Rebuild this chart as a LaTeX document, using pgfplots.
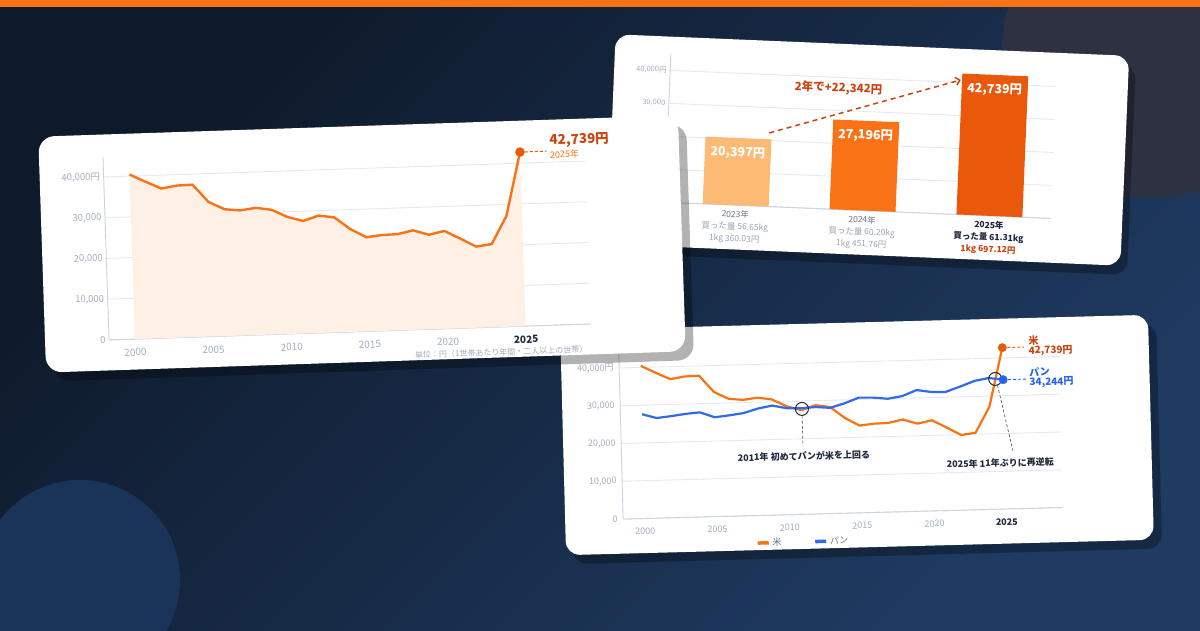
\documentclass[border=0pt]{standalone}
\usepackage{pgfplots}
\usepackage{pgfplotstable}
\pgfplotsset{compat=1.18}
\usepackage{fontspec}
\setmainfont{Noto Sans CJK JP}
\usetikzlibrary{arrows.meta}

\definecolor{bgA}{HTML}{0E1929}
\definecolor{bgB}{HTML}{1F3B62}
\definecolor{circA}{HTML}{2E3142}
\definecolor{circB}{HTML}{1A3358}
\definecolor{topbar}{HTML}{F97316}
\definecolor{riceline}{HTML}{F97316}
\definecolor{ricedot}{HTML}{EA580C}
\definecolor{labeldark}{HTML}{C94410}
\definecolor{breadline}{HTML}{2F6AE8}
\definecolor{breadlab}{HTML}{2563EB}
\definecolor{peach}{HTML}{FEF0E5}
\definecolor{gridc}{HTML}{E4E9F0}
\definecolor{axisline}{HTML}{CBD3DF}
\definecolor{tickc}{HTML}{A3AEC0}
\definecolor{darktxt}{HTML}{1E293B}
\definecolor{catgrey}{HTML}{9AA4B4}
\definecolor{catdark}{HTML}{6B7587}
\definecolor{legc}{HTML}{6B7280}
\definecolor{bar23}{HTML}{FDBA74}
\definecolor{bar24}{HTML}{F97316}
\definecolor{bar25}{HTML}{EA580C}

% household rice spending per year (yen)
\pgfplotstableread{
year yen
2000 40400
2001 38500
2002 36700
2003 37300
2004 37400
2005 33000
2006 31100
2007 30700
2008 31200
2009 30600
2010 28700
2011 27600
2012 28800
2013 28200
2014 25200
2015 23100
2016 23500
2017 23600
2018 24400
2019 23200
2020 24000
2021 22000
2022 19900
2023 20397
2024 27196
2025 42739
}\rice

% household bread spending per year (yen)
\pgfplotstableread{
year yen
2000 27600
2001 26500
2002 26900
2003 27400
2004 27700
2005 26300
2006 26700
2007 27200
2008 28300
2009 29000
2010 28200
2011 28100
2012 28300
2013 28000
2014 29100
2015 30500
2016 30400
2017 30000
2018 30600
2019 32100
2020 31500
2021 31400
2022 32700
2023 34100
2024 34800
2025 34244
}\bread

% years are plotted relative to 2000
\pgfplotsset{
  cardaxis/.style={
    scale only axis, clip=false,
    axis x line*=bottom, axis y line*=left,
    axis line style={-, draw=axisline, line width=0.9pt},
    ymajorgrids, grid style={gridc, line width=0.9pt},
    major tick length=0pt,
    scaled y ticks=false, scaled x ticks=false,
    ytick={0,10000,20000,30000,40000},
    yticklabels={0,10{,}000,20{,}000,30{,}000,40{,}000円},
  },
  yearticks/.style={
    xtick={0,5,10,15,20,25},
    xticklabels={2000,2005,2010,2015,2020,{\textcolor{darktxt}{\bfseries 2025}}},
  },
}

\begin{document}
\begin{tikzpicture}[x=1pt,y=1pt]
\clip (0,0) rectangle (1200,630);

% backdrop
\shade[top color=bgA, bottom color=bgB, shading angle=45] (0,0) rectangle (1200,630);
\fill[circA, overlay] (1150,580) circle[radius=148];
\fill[circB, overlay] (80,50) circle[radius=100];
\fill[topbar] (0,623) rectangle (1200,630);

% ---------- card: three-year bar comparison ----------
\begin{scope}[shift={(868,480)}, rotate=-2.4, transform shape]
\fill[black, opacity=0.3, rounded corners=14] (-250,-114) rectangle (264,96);
\fill[white, rounded corners=14] (-257,-105) rectangle (257,105);
\begin{axis}[cardaxis,
  at={(-201pt,-60.7pt)}, anchor=south west,
  width=386pt, height=148.5pt,
  xmin=-0.56, xmax=2.48, ymin=0, ymax=45000,
  xtick=\empty,
  yticklabel style={font=\fontsize{7.5}{8}\selectfont, text=tickc},
]
\addplot[ybar, bar width=0.52, bar shift=0pt, fill=bar23, draw=none] coordinates {(0,20397)};
\addplot[ybar, bar width=0.52, bar shift=0pt, fill=bar24, draw=none] coordinates {(1,27196)};
\addplot[ybar, bar width=0.52, bar shift=0pt, fill=bar25, draw=none] coordinates {(2,42739)};
\node[anchor=north, yshift=-5pt, text=white, font=\bfseries\fontsize{12.5}{13}\selectfont] at (axis cs:0,20397) {20,397円};
\node[anchor=north, yshift=-5pt, text=white, font=\bfseries\fontsize{12.5}{13}\selectfont] at (axis cs:1,27196) {27,196円};
\node[anchor=north, yshift=-5pt, text=white, font=\bfseries\fontsize{12.5}{13}\selectfont] at (axis cs:2,42739) {42,739円};
\draw[labeldark, line width=1.5pt, dash pattern=on 5pt off 4pt, -{Straight Barb[length=4pt,width=8pt]}]
  (axis cs:0.24,22300) -- (axis cs:1.73,40800);
\node[text=labeldark, font=\bfseries\fontsize{11.5}{12}\selectfont] at (axis cs:0.77,36700) {2年で+22,342円};
\node[anchor=north, yshift=-5pt, inner sep=0pt, align=center, font=\fontsize{8.5}{12}\selectfont] at (axis cs:0,0)
  {\textcolor{catdark}{2023年}\\\textcolor{catgrey}{買った量 56.65kg}\\\textcolor{catgrey}{1kg 360.03円}};
\node[anchor=north, yshift=-5pt, inner sep=0pt, align=center, font=\fontsize{8.5}{12}\selectfont] at (axis cs:1,0)
  {\textcolor{catdark}{2024年}\\\textcolor{catgrey}{買った量 60.20kg}\\\textcolor{catgrey}{1kg 451.76円}};
\node[anchor=north, yshift=-5pt, inner sep=0pt, align=center, font=\bfseries\fontsize{8.5}{12}\selectfont] at (axis cs:2,0)
  {\textcolor{darktxt}{2025年}\\\textcolor{darktxt}{買った量 61.31kg}\\\textcolor{labeldark}{1kg 697.12円}};
\end{axis}
\end{scope}

% ---------- card: rice vs bread ----------
\begin{scope}[shift={(857,195)}, rotate=1.5, transform shape]
\fill[black, opacity=0.3, rounded corners=14] (-287,-121.5) rectangle (302,103.5);
\fill[white, rounded corners=14] (-294,-112.5) rectangle (294,112.5);
\begin{axis}[cardaxis, yearticks,
  at={(-236pt,-77.9pt)}, anchor=south west,
  width=440pt, height=170pt,
  xmin=-1.5, xmax=28.9, ymin=0, ymax=45000,
  xticklabel style={font=\fontsize{9}{10}\selectfont, text=tickc, yshift=-6pt},
  yticklabel style={font=\fontsize{9}{10}\selectfont, text=tickc, xshift=-2pt},
  legend style={at={(axis description cs:0.30,-0.162)}, anchor=west, draw=none, fill=none,
    inner sep=0pt, font=\fontsize{9}{10}\selectfont, text=legc, legend columns=2,
    /tikz/every even column/.append style={column sep=30pt}},
  legend image code/.code={\draw[#1, line width=3.5pt] (0pt,0pt) -- (11pt,0pt);},
]
\addplot[riceline, line width=2.2pt, line join=round] table[x expr=\thisrow{year}-2000, y=yen] {\rice};
\addlegendentry{米}
\addplot[breadline, line width=2.2pt, line join=round] table[x expr=\thisrow{year}-2000, y=yen] {\bread};
\addlegendentry{パン}
\draw[ricedot, densely dashed, line width=0.9pt] (axis cs:25,42739) -- (axis cs:26.5,42739);
\draw[breadlab, densely dashed, line width=0.9pt] (axis cs:25,34244) -- (axis cs:26.6,34244);
\addplot[forget plot, only marks, mark=*, mark size=4.2pt, color=ricedot] coordinates {(25,42739)};
\addplot[forget plot, only marks, mark=*, mark size=4.2pt, color=breadlab] coordinates {(25,34244)};
\draw[black!85, line width=1pt] (axis cs:11.05,27900) circle[radius=6.5pt];
\draw[black!85, line width=1pt] (axis cs:24.45,34500) circle[radius=6.5pt];
\draw[black!70, densely dashed, line width=0.6pt] (axis cs:11.05,26100) -- (axis cs:11.05,18000);
\draw[black!70, densely dashed, line width=0.6pt] (axis cs:24.6,32800) -- (axis cs:25.55,15300);
\node[text=darktxt, font=\bfseries\fontsize{9}{10}\selectfont] at (axis cs:11.1,15400) {2011年 初めてパンが米を上回る};
\node[text=darktxt, font=\bfseries\fontsize{9}{10}\selectfont] at (axis cs:24.65,12200) {2025年 11年ぶりに再逆転};
\node[anchor=west, inner sep=0pt, text=labeldark, font=\bfseries\fontsize{10}{11}\selectfont] at (axis cs:26.8,44300) {米};
\node[anchor=west, inner sep=0pt, text=labeldark, font=\bfseries\fontsize{10}{11}\selectfont] at (axis cs:26.8,41600) {42,739円};
\node[anchor=west, inner sep=0pt, text=breadlab, font=\bfseries\fontsize{10}{11}\selectfont] at (axis cs:26.8,36100) {パン};
\node[anchor=west, inner sep=0pt, text=breadlab, font=\bfseries\fontsize{10}{11}\selectfont] at (axis cs:26.8,33200) {34,244円};
\end{axis}
\end{scope}

% ---------- card: rice spending trend ----------
\begin{scope}[shift={(362,386)}, rotate=1.9, transform shape]
\fill[black, opacity=0.3, rounded corners=16] (-312,-127) rectangle (328,109);
\fill[white, rounded corners=16] (-320,-118) rectangle (320,118);
\begin{axis}[cardaxis, yearticks,
  at={(-256pt,-87.5pt)}, anchor=south west,
  width=482pt, height=183pt,
  xmin=-1.66, xmax=29.16, ymin=0, ymax=44900,
  xticklabel style={font=\fontsize{10}{11}\selectfont, text=tickc, yshift=-6pt},
  yticklabel style={font=\fontsize{9.5}{10}\selectfont, text=tickc},
]
\addplot[fill=peach, draw=none] table[x expr=\thisrow{year}-2000, y=yen] {\rice} \closedcycle;
\addplot[riceline, line width=2.4pt, line join=round] table[x expr=\thisrow{year}-2000, y=yen] {\rice};
\draw[ricedot, densely dashed, line width=1pt] (axis cs:25,42739) -- (axis cs:26.7,42739);
\addplot[only marks, mark=*, mark size=4.5pt, color=ricedot] coordinates {(25,42739)};
\node[anchor=west, inner sep=0pt, text=labeldark, font=\bfseries\fontsize{13.5}{14}\selectfont] at (axis cs:26.9,45200) {42,739円};
\node[anchor=west, inner sep=0pt, text=riceline, font=\fontsize{9}{10}\selectfont] at (axis cs:26.9,41800) {2025年};
\node[anchor=east, inner sep=0pt, text=tickc, font=\fontsize{8}{9}\selectfont] at (axis cs:28.9,-6200) {単位：円（1世帯あたり年間・二人以上の世帯）};
\end{axis}
\end{scope}

\end{tikzpicture}
\end{document}
